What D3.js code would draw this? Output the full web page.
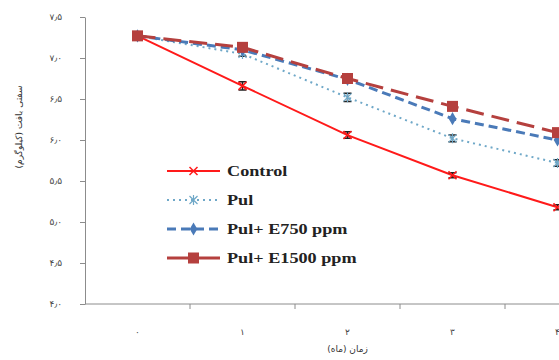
<!DOCTYPE html>
<html>
<head>
<meta charset="utf-8">
<script src="https://cdn.jsdelivr.net/npm/d3@7"></script>
<style>
  body { margin: 0; background: #fff; }
  .axis path, .axis line { stroke: #8c8c8c; }
  .axis text { font-family: "DejaVu Sans", sans-serif; font-size: 9px; fill: #444; letter-spacing: 2px; }
</style>
</head>
<body>
<div id="chart"></div>
<script>
// داده‌ها
const months = ['0', '1', '2', '3', '4']
const monthLabels = ['۰', '۱', '۲', '۳', '۴']
const yTicks = [4, 4.5, 5, 5.5, 6, 6.5, 7, 7.5]
const yTickLabels = ['۴٫۰', '۴٫۵', '۵٫۰', '۵٫۵', '۶٫۰', '۶٫۵', '۷٫۰', '۷٫۵']

const control = [7.27, 6.66, 6.06, 5.57, 5.18]
const pul = [7.27, 7.05, 6.52, 6.02, 5.72]
const pulE750 = [7.27, 7.10, 6.74, 6.26, 6.00]
const pulE1500 = [7.27, 7.13, 6.75, 6.41, 6.09]

const controlErr = [0, 0.05, 0.04, 0.03, 0.03]
const pulErr = [0, 0.03, 0.05, 0.04, 0.04]

const seriesNames = ['Control', 'Pul', 'Pul+ E750 ppm', 'Pul+ E1500 ppm']

const width = 559, height = 360
const margin = { top: 17, left: 85, bottom: 56 }

const svg = d3.select('#chart').append('svg')
  .attr('width', width)
  .attr('height', height)

// x: category bands (ticks between categories)
const xScale = d3.scaleBand()
  .domain(months)
  .range([margin.left, margin.left + 105 * months.length])
const yScale = d3.scaleLinear()
  .domain([4, 7.5])
  .range([height - margin.bottom, margin.top])

// x axis
const xAxisG = svg.append('g')
  .attr('class', 'axis')
  .attr('transform', 'translate(0,' + yScale(4) + ')')
xAxisG.append('line')
  .attr('x1', margin.left).attr('x2', width)
  .attr('y1', 0).attr('y2', 0)
xAxisG.selectAll('.xt')
  .data(months.slice(1))
  .enter().append('line')
  .attr('x1', d => xScale(d)).attr('x2', d => xScale(d))
  .attr('y1', 0).attr('y2', 5)
xAxisG.selectAll('.xl')
  .data(months)
  .enter().append('text')
  .attr('x', d => xScale(d) + xScale.bandwidth() / 2)
  .attr('y', 31)
  .attr('text-anchor', 'middle')
  .style('letter-spacing', '0px')
  .text((d, i) => monthLabels[i])

// y axis
const yAxis = d3.axisLeft(yScale)
  .tickValues(yTicks)
  .tickSize(5)
  .tickSizeOuter(0)
  .tickPadding(18)
  .tickFormat((d, i) => yTickLabels[i])
svg.append('g')
  .attr('class', 'axis')
  .attr('transform', 'translate(' + margin.left + ',0)')
  .call(yAxis)

// axis titles
svg.append('text')
  .attr('x', xScale('2') + xScale.bandwidth() / 2)
  .attr('y', 352)
  .attr('text-anchor', 'middle')
  .attr('font-family', '"DejaVu Sans", sans-serif')
  .attr('font-size', 9)
  .attr('fill', '#333')
  .text('زمان (ماه)')
svg.append('text')
  .attr('transform', 'translate(22,127) rotate(-90)')
  .attr('text-anchor', 'middle')
  .attr('font-family', '"DejaVu Sans", sans-serif')
  .attr('font-size', 9)
  .attr('fill', '#333')
  .text('سفتی بافت (کیلوگرم)')

const series = [
  { name: seriesNames[0], values: control, err: controlErr, color: '#ff1a1a', width: 2, dash: null, marker: 'x' },
  { name: seriesNames[1], values: pul, err: pulErr, color: '#6fa8c8', width: 2, dash: '2,4', marker: 'star' },
  { name: seriesNames[2], values: pulE750, err: null, color: '#4a7ab8', width: 3, dash: '9,5', marker: 'diamond' },
  { name: seriesNames[3], values: pulE1500, err: null, color: '#b5403e', width: 3, dash: '18,8', marker: 'square' }
]

const cx = i => xScale(months[i]) + xScale.bandwidth() / 2
const line = d3.line()
  .x((d, i) => cx(i))
  .y(d => yScale(d))

function drawMarker(g, type, x, y, color) {
  if (type === 'square') {
    g.append('rect').attr('x', x - 5.5).attr('y', y - 5.5).attr('width', 11).attr('height', 11).attr('fill', color)
  } else if (type === 'diamond') {
    g.append('path').attr('d', d3.symbol(d3.symbolDiamond, 50)()).attr('transform', 'translate(' + x + ',' + y + ')').attr('fill', color)
  } else if (type === 'x') {
    g.append('path').attr('d', 'M' + (x - 4) + ',' + (y - 4) + 'L' + (x + 4) + ',' + (y + 4) + 'M' + (x - 4) + ',' + (y + 4) + 'L' + (x + 4) + ',' + (y - 4))
      .attr('stroke', color).attr('stroke-width', 1.5)
  } else if (type === 'star') {
    g.append('path').attr('d', 'M' + (x - 4) + ',' + (y - 4) + 'L' + (x + 4) + ',' + (y + 4) + 'M' + (x - 4) + ',' + (y + 4) + 'L' + (x + 4) + ',' + (y - 4) + 'M' + x + ',' + (y - 5) + 'L' + x + ',' + (y + 5))
      .attr('stroke', color).attr('stroke-width', 1.2)
  }
}

const plot = svg.append('g')
series.forEach(s => {
  const g = plot.append('g')
  g.append('path')
    .datum(s.values)
    .attr('d', line)
    .attr('fill', 'none')
    .attr('stroke', s.color)
    .attr('stroke-width', s.width)
    .attr('stroke-dasharray', s.dash)
  if (s.err) {
    s.values.forEach((v, i) => {
      if (!s.err[i]) return
      const x = cx(i), y1 = yScale(v - s.err[i]), y2 = yScale(v + s.err[i])
      g.append('path')
        .attr('d', 'M' + x + ',' + y1 + 'L' + x + ',' + y2 + 'M' + (x - 4) + ',' + y1 + 'L' + (x + 4) + ',' + y1 + 'M' + (x - 4) + ',' + y2 + 'L' + (x + 4) + ',' + y2)
        .attr('stroke', '#222').attr('stroke-width', 1.5).attr('fill', 'none')
    })
  }
  s.values.forEach((v, i) => drawMarker(g, s.marker, cx(i), yScale(v), s.color))
})

// legend
const legend = svg.append('g').attr('transform', 'translate(167,171)')
series.forEach((s, i) => {
  const g = legend.append('g').attr('transform', 'translate(0,' + i * 29 + ')')
  g.append('line')
    .attr('x1', 0).attr('x2', 53).attr('y1', 0).attr('y2', 0)
    .attr('stroke', s.color)
    .attr('stroke-width', s.width)
    .attr('stroke-dasharray', s.dash ? (s.marker === 'square' ? null : s.dash) : null)
  drawMarker(g, s.marker, 26.5, 0, s.color)
  g.append('text')
    .attr('transform', 'translate(60,5) scale(1.3,1)')
    .attr('font-family', '"Liberation Serif", serif')
    .attr('font-weight', 'bold')
    .attr('font-size', 14)
    .attr('fill', '#222')
    .text(s.name)
})
</script>
</body>
</html>
